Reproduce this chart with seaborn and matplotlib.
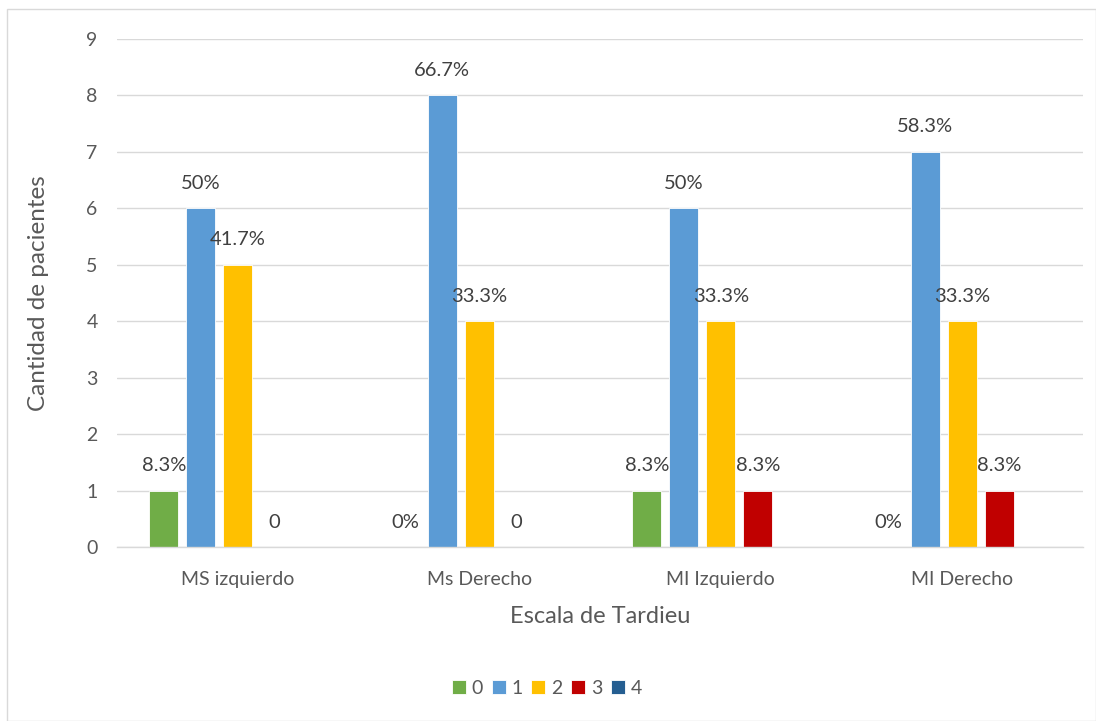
import matplotlib
matplotlib.use("Agg")
import matplotlib.pyplot as plt
import seaborn as sns
import pandas as pd
from matplotlib.patches import Rectangle

# Data
categories = ["MS izquierdo", "Ms Derecho", "MI Izquierdo", "MI Derecho"]
levels = ["0", "1", "2", "3", "4"]
level_0 = [1, 0, 1, 0]
level_1 = [6, 8, 6, 7]
level_2 = [5, 4, 4, 4]
level_3 = [0, 0, 1, 1]
level_4 = [0, 0, 0, 0]
labels_0 = ["8.3%", "0%", "8.3%", "0%"]
labels_1 = ["50%", "66.7%", "50%", "58.3%"]
labels_2 = ["41.7%", "33.3%", "33.3%", "33.3%"]
labels_3 = ["0", "0", "8.3%", "8.3%"]
labels_4 = [None, None, None, None]

colors = ["#70AD47", "#5B9BD5", "#FFC000", "#C00000", "#255E91"]
text_color = "#595959"
grid_color = "#D9D9D9"

series = [level_0, level_1, level_2, level_3, level_4]
series_labels = [labels_0, labels_1, labels_2, labels_3, labels_4]

rows = []
for lvl, vals in zip(levels, series):
    for cat, v in zip(categories, vals):
        rows.append({"Escala": cat, "Nivel": lvl, "Cantidad": v})
df = pd.DataFrame(rows)

sns.set_theme(style="white")
plt.rcParams["font.family"] = ["Lato", "DejaVu Sans"]

fig = plt.figure(figsize=(10.96, 7.21), dpi=100)
ax = fig.add_axes([117 / 1096, 1 - 547 / 721, (1083 - 117) / 1096, (547 - 39) / 721])

sns.barplot(data=df, x="Escala", y="Cantidad", hue="Nivel", hue_order=levels,
            order=categories, palette=colors, width=0.766, gap=0.22,
            saturation=1, ax=ax, legend=True, errorbar=None, linewidth=0.6)

# Value labels above each bar
for container, labs in zip(ax.containers, series_labels):
    for bar, lab in zip(container.patches, labs):
        if lab is None:
            continue
        x = bar.get_x() + bar.get_width() / 2
        y = bar.get_height()
        ax.annotate(lab, (x, y), xytext=(0, 18), textcoords="offset points",
                    ha="center", va="center", fontsize=14.5, color="#404040")

ax.set_ylim(0, 9)
ax.set_xlim(-0.5, 3.5)
ax.set_yticks(range(0, 10))
ax.yaxis.grid(True, color=grid_color, linewidth=1)
ax.set_axisbelow(True)
for s in ["top", "right", "left"]:
    ax.spines[s].set_visible(False)
ax.spines["bottom"].set_color(grid_color)
ax.spines["bottom"].set_linewidth(1)
ax.tick_params(axis="both", length=0, labelsize=14, colors=text_color)
ax.tick_params(axis="y", pad=14)
ax.tick_params(axis="x", pad=17)

ax.set_xlabel("Escala de Tardieu", fontsize=17, color=text_color, labelpad=13)
ax.set_ylabel("Cantidad de pacientes", fontsize=17.5, color=text_color, labelpad=27)

leg = ax.legend(loc="center", bbox_to_anchor=(547 / 1096, (721 - 688) / 721), bbox_transform=fig.transFigure,
                ncol=5, frameon=False, fontsize=14, handlelength=0.72, handleheight=0.72,
                handletextpad=0.3, columnspacing=0.45)
for t in leg.get_texts():
    t.set_color(text_color)

# Chart border
fig.patches.append(Rectangle((7 / 1096, 0), 1 - 7 / 1096, 1 - 9 / 721, transform=fig.transFigure,
                             fill=False, edgecolor="#D9D9D9", linewidth=1))

fig.savefig("out.png", dpi=100)
